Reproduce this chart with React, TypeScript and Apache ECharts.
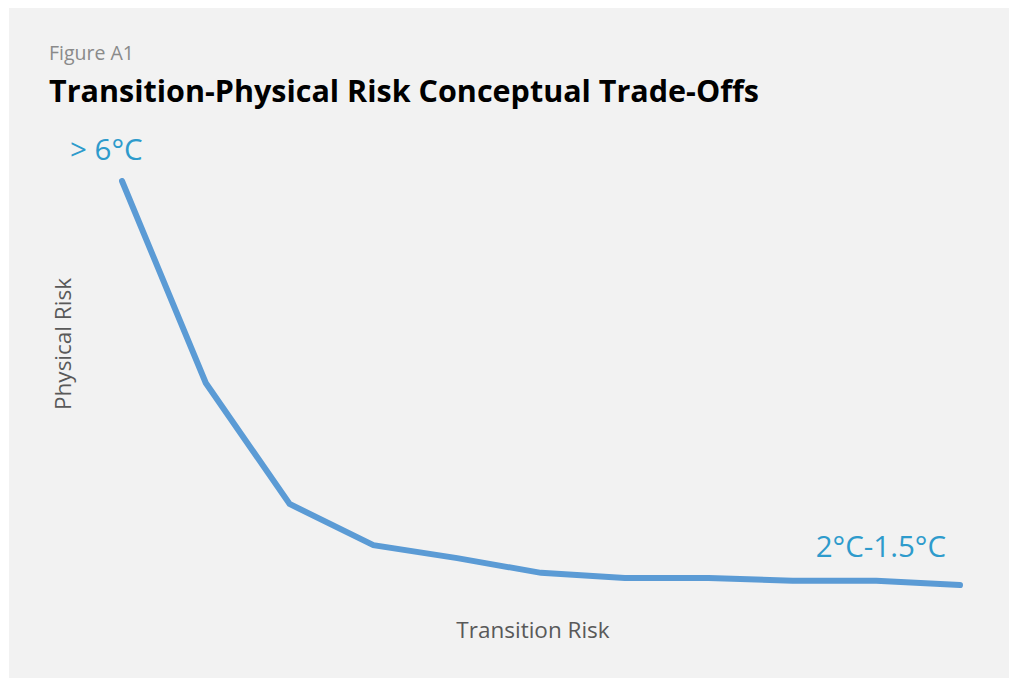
import React, { useEffect, useRef } from "react";
import * as echarts from "echarts";

const categories = ["1", "2", "3", "4", "5", "6", "7", "8", "9", "10", "11"];
const physicalRisk = [100, 51.9, 23.1, 13.3, 10.2, 6.7, 5.5, 5.5, 4.8, 4.8, 3.8];
const figureLabel = "Figure A1";
const titleText = "Transition-Physical Risk Conceptual Trade-Offs";
const startLabel = "> 6°C";
const endLabel = "2°C-1.5°C";
const xName = "Transition Risk";
const yName = "Physical Risk";

export default function App() {
  const ref = useRef<HTMLDivElement>(null);
  useEffect(() => {
    if (!ref.current) return;
    const chart = echarts.init(ref.current, null, { renderer: "svg" });
    const font = "'Open Sans', 'Noto Sans', sans-serif";
    chart.setOption({
      animation: false,
      backgroundColor: "#f2f2f2",
      grid: { left: 113, right: 49, top: 173, bottom: 77 },
      xAxis: {
        type: "category",
        data: categories,
        boundaryGap: false,
        axisLine: { show: false },
        axisTick: { show: false },
        axisLabel: { show: false },
        splitLine: { show: false },
      },
      yAxis: {
        type: "value",
        min: 0,
        max: 100,
        axisLine: { show: false },
        axisTick: { show: false },
        axisLabel: { show: false },
        splitLine: { show: false },
      },
      series: [
        {
          type: "line",
          data: physicalRisk,
          symbol: "none",
          lineStyle: { color: "#5b9bd5", width: 6, cap: "round", join: "miter" },
        },
      ],
      graphic: [
        {
          type: "text",
          x: 40,
          y: 44,
          style: { text: figureLabel, fill: "#8a8a8a", font: `19.5px ${font}`, verticalAlign: "middle" },
        },
        {
          type: "text",
          x: 40,
          y: 82,
          style: { text: titleText, fill: "#000000", font: `bold 30.5px ${font}`, verticalAlign: "middle" },
        },
        {
          type: "text",
          x: 61,
          y: 140,
          style: { text: startLabel, fill: "#2e9bcc", font: `29.5px ${font}`, verticalAlign: "middle" },
        },
        {
          type: "text",
          x: 937,
          y: 537,
          style: { text: endLabel, fill: "#2e9bcc", font: `29.5px ${font}`, align: "right", verticalAlign: "middle" },
        },
        {
          type: "text",
          x: 524,
          y: 621,
          style: {
            text: xName,
            fill: "#595959",
            font: `22.5px ${font}`,
            align: "center",
            verticalAlign: "middle",
          },
        },
        {
          type: "text",
          x: 53,
          y: 336,
          rotation: Math.PI / 2,
          style: {
            text: yName,
            fill: "#595959",
            font: `22.5px ${font}`,
            align: "center",
            verticalAlign: "middle",
          },
        },
      ],
    });
    return () => chart.dispose();
  }, []);
  return (
    <div style={{ position: "fixed", left: 0, top: 0, width: 1009, height: 678, background: "#ffffff", overflow: "hidden" }}>
      <div ref={ref} style={{ position: "absolute", left: 9, top: 8, width: 1000, height: 670 }} />
    </div>
  );
}
